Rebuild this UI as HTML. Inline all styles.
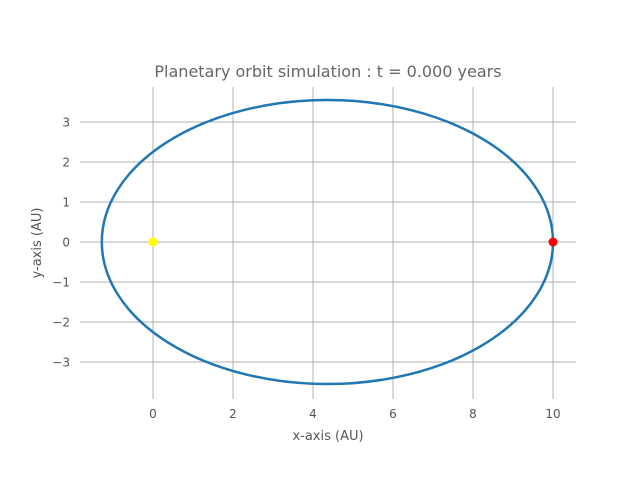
<!DOCTYPE html>
<html><head><meta charset="utf-8"><style>
html,body{margin:0;padding:0;background:#fff;}
svg{display:block;font-family:"DejaVu Sans","Liberation Sans",sans-serif;}
</style></head><body>
<svg id="chart" width="640" height="480" viewBox="0 0 640 480">
<rect x="0" y="0" width="640" height="480" fill="#fff"/>
<text x="328" y="77" text-anchor="middle" font-size="16" fill="#666">Planetary orbit simulation : t = 0.000 years</text>
<g id="grid"></g>
<g id="ticks"></g>
<g id="marks"></g>
<text x="328" y="440" text-anchor="middle" font-size="13" fill="#555">x-axis (AU)</text>
<text x="0" y="0" transform="translate(41,243) rotate(-90)" text-anchor="middle" font-size="13" fill="#555">y-axis (AU)</text>
</svg>
<script>
const xTicks = [0, 2, 4, 6, 8, 10];
const yTicks = [-3, -2, -1, 0, 1, 2, 3];
const orbitCenter = [4.36, 0];
const orbitSemiAxes = [5.64, 3.55];
const sunPos = [0, 0];
const planetPos = [10, 0];

const L = 80, R = 576, T = 87, B = 399;
const xMin = -1.825, xMax = 10.575, yMin = -3.925, yMax = 3.875;
const sx = v => L + (v - xMin) / (xMax - xMin) * (R - L);
const sy = v => B - (v - yMin) / (yMax - yMin) * (B - T);
const NS = 'http://www.w3.org/2000/svg';
function mk(tag, attrs, parent) {
  const e = document.createElementNS(NS, tag);
  for (const k in attrs) e.setAttribute(k, attrs[k]);
  parent.appendChild(e);
  return e;
}
const grid = document.getElementById('grid');
const ticks = document.getElementById('ticks');
const marks = document.getElementById('marks');

xTicks.forEach(v => {
  const l = mk('line', {x1: sx(v), x2: sx(v), y1: T, y2: B, stroke: '#b0b0b0', 'stroke-width': 1}, grid);
  
  
  const t = mk('text', {x: sx(v), y: 418, 'text-anchor': 'middle', 'font-size': 12, fill: '#555'}, ticks);
  t.textContent = String(v);
  
  
});
yTicks.forEach(v => {
  const l = mk('line', {x1: L, x2: R, y1: sy(v), y2: sy(v), stroke: '#b0b0b0', 'stroke-width': 1}, grid);
  
  
  const t = mk('text', {x: 70, y: sy(v) + 4.5, 'text-anchor': 'end', 'font-size': 12, fill: '#555'}, ticks);
  t.textContent = v < 0 ? '\u2212' + Math.abs(v) : String(v);
  
  
});

const e = mk('ellipse', {
  cx: sx(orbitCenter[0]), cy: sy(orbitCenter[1]),
  rx: sx(orbitCenter[0] + orbitSemiAxes[0]) - sx(orbitCenter[0]),
  ry: sy(orbitCenter[1]) - sy(orbitCenter[1] + orbitSemiAxes[1]),
  fill: 'none', stroke: '#1f77b4', 'stroke-width': 2.5
}, marks);



const s = mk('circle', {cx: sx(sunPos[0]), cy: sy(sunPos[1]), r: 4.5, fill: '#ffff00'}, marks);


const p = mk('circle', {cx: sx(planetPos[0]), cy: sy(planetPos[1]), r: 4.5, fill: '#ff0000'}, marks);


</script>
</body></html>
